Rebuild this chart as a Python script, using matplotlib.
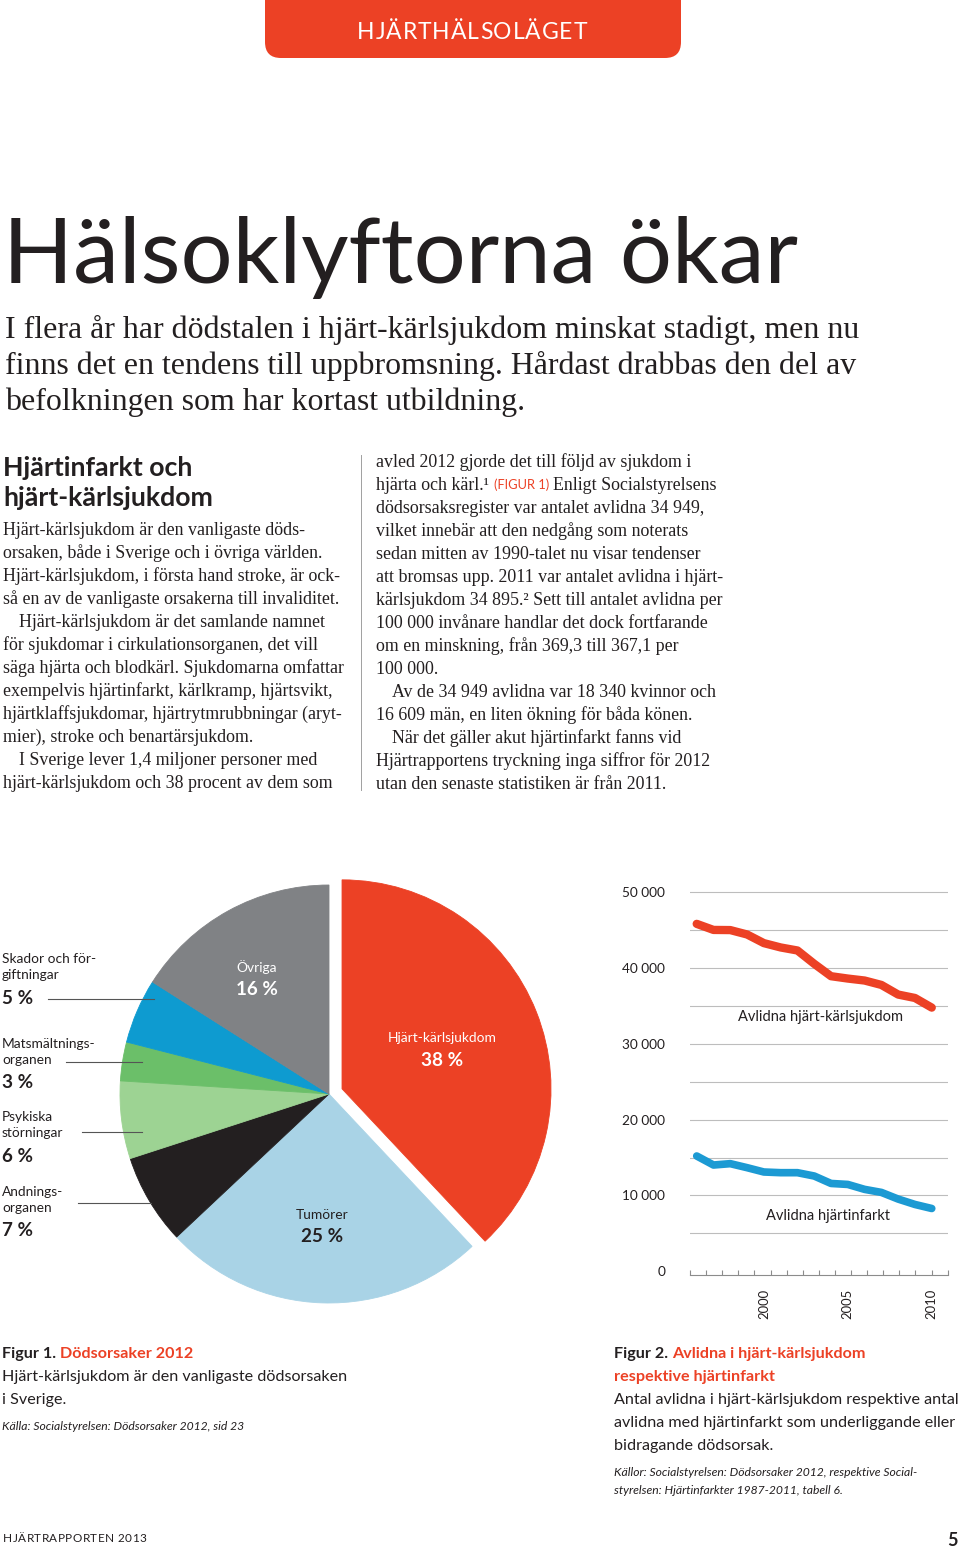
import numpy as np
import matplotlib
matplotlib.use('Agg')
import matplotlib.pyplot as plt
from matplotlib.patches import FancyBboxPatch

# ---------- data ----------
causes = ['Hjärt-kärlsjukdom', 'Tumörer', 'Andningsorganen', 'Psykiska störningar',
          'Matsmältningsorganen', 'Skador och förgiftningar', 'Övriga']
shares = [38, 25, 7, 6, 3, 5, 16]
cause_colors = ['#ec4125', '#a9d3e6', '#231f20', '#9dd393', '#6bbf69', '#0e9bd0', '#808285']

years = [1996, 1997, 1998, 1999, 2000, 2001, 2002, 2003, 2004, 2005, 2006, 2007, 2008, 2009, 2010]
cvd_deaths = [45800, 45000, 44980, 44400, 43260, 42690, 42290, 40530, 38900, 38590, 38330, 37750, 36480, 36030, 34760]
mi_deaths = [15200, 14010, 14190, 13660, 13090, 13000, 13000, 12560, 11580, 11450, 10800, 10400, 9520, 8810, 8280]
y_ticks = [0, 10000, 20000, 30000, 40000, 50000]
grid_levels = [5000, 10000, 15000, 20000, 25000, 30000, 35000, 40000, 45000, 50000]
year_ticks = [2000, 2005, 2010]

RED = '#ec4125'
BLUE = '#1c9ad3'
DARK = '#231f20'
SANS = ['Lato', 'DejaVu Sans']
SERIF = ['Liberation Serif', 'DejaVu Serif']
plt.rcParams['font.family'] = SANS

W, H = 960, 1549
fig = plt.figure(figsize=(W / 100, H / 100), dpi=100)
fig.patch.set_facecolor('white')
renderer = fig.canvas.get_renderer()


def px_axes(left, top, width, height, **kw):
    return fig.add_axes([left / W, 1 - (top + height) / H, width / W, height / H], **kw)


# full page overlay in pixel coordinates (y downwards)
page = px_axes(0, 0, W, H, zorder=5)
page.set_xlim(0, W)
page.set_ylim(H, 0)
page.axis('off')


def text_w(s, **kw):
    t = page.text(0, 0, s, **kw)
    w = t.get_window_extent(renderer).width
    t.remove()
    return w


def fit(s, target, **kw):
    # font size that gives the string the width it has in print
    return 10 * target / text_w(s, fontsize=10, **kw)


def put(x, y, s, size, **kw):
    kw.setdefault('color', DARK)
    kw.setdefault('va', 'center')
    return page.text(x, y, s, fontsize=size, **kw)


def runs(x, y, parts, size, family):
    # several styles on one line
    gap = text_w('n n', fontsize=size, family=family) - text_w('nn', fontsize=size, family=family)
    for s, props in parts:
        kw = dict(family=family)
        kw.update(props)
        sz = kw.pop('size', size)
        t = put(x, y, s, sz, **kw)
        x += t.get_window_extent(renderer).width + gap


def tracked(x, y, s, target, size, ha='left', **kw):
    # letter-spaced caps
    ts, ws = [], []
    for ch in s:
        t = put(0, y, ch, size, **kw)
        ts.append(t)
        ws.append(t.get_window_extent(renderer).width if ch != ' ' else size * 0.3)
    track = (target - sum(ws)) / (len(s) - 1)
    if ha == 'center':
        x = x - target / 2
    for t, w in zip(ts, ws):
        t.set_x(x)
        x += w + track


# ---------- header ----------
page.add_patch(FancyBboxPatch((265, -40), 416, 98, boxstyle='round,pad=0,rounding_size=16',
                              fc=RED, ec='none'))
tracked(472, 32, 'HJÄRTHÄLSOLÄGET', 230, 16.5, ha='center', color='white')

title = 'Hälsoklyftorna ökar'
put(3, 283, title, fit(title, 797), va='baseline')

lead = ['I flera år har dödstalen i hjärt-kärlsjukdom minskat stadigt, men nu',
        'finns det en tendens till uppbromsning. Hårdast drabbas den del av',
        'befolkningen som har kortast utbildning.']
lead_size = fit(lead[0], 855, family=SERIF)
for i, s in enumerate(lead):
    put(5, 330 + 36 * i, s, lead_size, family=SERIF)

# ---------- body text ----------
head_size = fit('hjärt-kärlsjukdom', 211, weight='bold')
put(3, 468, 'Hjärtinfarkt och', head_size, weight='bold')
put(3, 498, 'hjärt-kärlsjukdom', head_size, weight='bold')

left_col = [(0, 'Hjärt-kärlsjukdom är den vanligaste döds-'),
            (0, 'orsaken, både i Sverige och i övriga världen.'),
            (0, 'Hjärt-kärlsjukdom, i första hand stroke, är ock-'),
            (0, 'så en av de vanligaste orsakerna till invaliditet.'),
            (1, 'Hjärt-kärlsjukdom är det samlande namnet'),
            (0, 'för sjukdomar i cirkulationsorganen, det vill'),
            (0, 'säga hjärta och blodkärl. Sjukdomarna omfattar'),
            (0, 'exempelvis hjärtinfarkt, kärlkramp, hjärtsvikt,'),
            (0, 'hjärtklaffsjukdomar, hjärtrytmrubbningar (aryt-'),
            (0, 'mier), stroke och benartärsjukdom.'),
            (1, 'I Sverige lever 1,4 miljoner personer med'),
            (0, 'hjärt-kärlsjukdom och 38 procent av dem som')]
right_col = [(0, 'avled 2012 gjorde det till följd av sjukdom i'),
             (0, None),
             (0, 'dödsorsaksregister var antalet avlidna 34 949,'),
             (0, 'vilket innebär att den nedgång som noterats'),
             (0, 'sedan mitten av 1990-talet nu visar tendenser'),
             (0, 'att bromsas upp. 2011 var antalet avlidna i hjärt-'),
             (0, 'kärlsjukdom 34 895.² Sett till antalet avlidna per'),
             (0, '100 000 invånare handlar det dock fortfarande'),
             (0, 'om en minskning, från 369,3 till 367,1 per'),
             (0, '100 000.'),
             (1, 'Av de 34 949 avlidna var 18 340 kvinnor och'),
             (0, '16 609 män, en liten ökning för båda könen.'),
             (1, 'När det gäller akut hjärtinfarkt fanns vid'),
             (0, 'Hjärtrapportens tryckning inga siffror för 2012'),
             (0, 'utan den senaste statistiken är från 2011.')]

body_size = fit(left_col[6][1], 342, family=SERIF)
for i, (ind, s) in enumerate(left_col):
    put(3 + 16 * ind, 530 + 23 * i, s, body_size, family=SERIF)
for i, (ind, s) in enumerate(right_col):
    y = 462 + 23 * i
    if s is None:
        runs(376, y, [('hjärta och kärl.¹', {}),
                      ('(FIGUR 1)', dict(family=SANS, color=RED, size=body_size * 0.72)),
                      ('Enligt Socialstyrelsens', {})], body_size, SERIF)
    else:
        put(376 + 16 * ind, y, s, body_size, family=SERIF)
page.plot([361, 361], [455, 790], color='#a0a0a0', lw=0.7)

# ---------- pie ----------
R, CX, CY = 209, 329, 1094
pie_ax = px_axes(CX - 1.2 * R, CY - 1.2 * R, 2.4 * R, 2.4 * R)
explode = [0.067 if c == 'Hjärt-kärlsjukdom' else 0 for c in causes]
wedges, _ = pie_ax.pie(shares, colors=cause_colors, startangle=90, counterclock=False,
                       explode=explode, wedgeprops=dict(linewidth=0.6))
for w in wedges:
    w.set_edgecolor(w.get_facecolor())
pie_ax.set_xlim(-1.2, 1.2)
pie_ax.set_ylim(-1.2, 1.2)

name_size = fit('Skador och för-', 94)
pct_size = fit('5 %', 31, weight='bold')

# labels inside the pie
inside = {'Övriga': (257, 967, 'white'), 'Hjärt-kärlsjukdom': (442, 1038, 'white'),
          'Tumörer': (322, 1215, DARK)}
for name, (x, y, col) in inside.items():
    v = shares[causes.index(name)]
    put(x, y, name, name_size, color=col, ha='center')
    put(x, y + 22, f'{v} %', pct_size, color=col, ha='center', weight='bold')

# labels to the left with leader lines
outside = {'Skador och förgiftningar': (['Skador och för-', 'giftningar'], 959, (48, 154, 999)),
           'Matsmältningsorganen': (['Matsmältnings-', 'organen'], 1044, (66, 142, 1062)),
           'Psykiska störningar': (['Psykiska', 'störningar'], 1117, (82, 142, 1132)),
           'Andningsorganen': (['Andnings-', 'organen'], 1192, (78, 151, 1203))}
for name, (lines, y, (x0, x1, ly)) in outside.items():
    v = shares[causes.index(name)]
    for j, s in enumerate(lines):
        put(2, y + 16 * j, s, name_size)
    put(2, y + 39, f'{v} %', pct_size, weight='bold')
    page.plot([x0, x1], [ly, ly], color='#555555', lw=0.8)

# ---------- line chart ----------
k = 379.3 / 50000
y_lo, y_hi = -500, 51000
ax = px_axes(690, 1271.3 - y_hi * k, 257.7, (y_hi - y_lo) * k)
ax.set_xlim(1995.6, 2010.95)
ax.set_ylim(y_lo, y_hi)
for lv in grid_levels:
    ax.axhline(lv, color='#bdbdbd', lw=0.8, zorder=1)
ax.plot(years, cvd_deaths, color=RED, lw=6, solid_capstyle='round', solid_joinstyle='round',
        clip_on=False, zorder=3)
ax.plot(years, mi_deaths, color=BLUE, lw=5.5, solid_capstyle='round', solid_joinstyle='round',
        clip_on=False, zorder=3)
for side in ['left', 'right', 'top']:
    ax.spines[side].set_visible(False)
ax.spines['bottom'].set_color('#8c8c8c')
ax.spines['bottom'].set_linewidth(0.8)
ax.set_facecolor('none')

ytick_size = fit('50 000', 43)
ax.set_yticks(y_ticks)
ax.set_yticklabels([f'{v:,}'.replace(',', ' ') for v in y_ticks])
ax.tick_params(axis='y', length=0, pad=18, labelsize=ytick_size, labelcolor=DARK)
ax.set_xticks(year_ticks)
ax.set_xticklabels([str(v) for v in year_ticks], rotation=90, va='top', ha='center')
ax.tick_params(axis='x', length=0, pad=10, labelsize=fit('2000', 30), labelcolor=DARK)
ax.set_xticks(np.linspace(1995.6, 2010.95, 17), minor=True)
ax.tick_params(axis='x', which='minor', direction='in', length=3.8, width=0.8, color='#8c8c8c')

lab_size = fit('Avlidna hjärt-kärlsjukdom', 165)
put(820, 1017, 'Avlidna hjärt-kärlsjukdom', lab_size, ha='center')
put(828, 1216, 'Avlidna hjärtinfarkt', lab_size, ha='center')

# ---------- captions ----------
cap_size = fit('Hjärt-kärlsjukdom är den vanligaste dödsorsaken', 345)
src_size = fit('Källa: Socialstyrelsen: Dödsorsaker 2012, sid 23', 243, style='italic')
bold = dict(weight='bold')
runs(2, 1354, [('Figur 1.', bold), ('Dödsorsaker 2012', dict(weight='bold', color=RED))], cap_size, SANS)
put(2, 1377, 'Hjärt-kärlsjukdom är den vanligaste dödsorsaken', cap_size)
put(2, 1400, 'i Sverige.', cap_size)
put(2, 1426, 'Källa: Socialstyrelsen: Dödsorsaker 2012, sid 23', src_size, style='italic')

runs(614, 1354, [('Figur 2.', bold), ('Avlidna i hjärt-kärlsjukdom', dict(weight='bold', color=RED))],
     cap_size, SANS)
put(614, 1377, 'respektive hjärtinfarkt', cap_size, weight='bold', color=RED)
put(614, 1400, 'Antal avlidna i hjärt-kärlsjukdom respektive antal', cap_size)
put(614, 1423, 'avlidna med hjärtinfarkt som underliggande eller', cap_size)
put(614, 1446, 'bidragande dödsorsak.', cap_size)
put(614, 1472, 'Källor: Socialstyrelsen: Dödsorsaker 2012, respektive Social-', src_size, style='italic')
put(614, 1491, 'styrelsen: Hjärtinfarkter 1987-2011, tabell 6.', src_size, style='italic')

# ---------- footer ----------
tracked(3, 1539, 'HJÄRTRAPPORTEN 2013', 143, 8.5)
put(958, 1540, '5', 13, weight='bold', ha='right')

fig.savefig('out.png', dpi=100)
